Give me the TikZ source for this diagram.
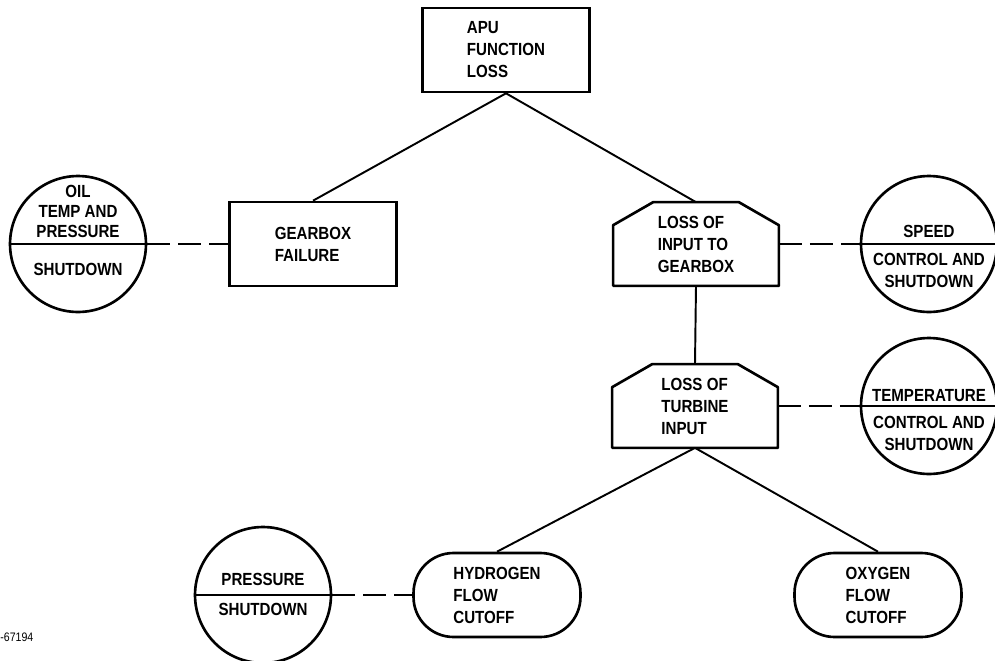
\documentclass[tikz,border=0pt]{standalone}
\usepackage{fontspec}
\setmainfont{Liberation Sans}[FakeStretch=0.86]

\begin{document}
\begin{tikzpicture}
        [x=0.02cm, y=-0.02cm,
        caps/.style={font=\bfseries\fontsize{10}{12.5}\selectfont, align=left, inner sep=0pt},
        box/.style={caps, draw, line width=1.5pt, minimum width=3.34cm, minimum height=1.68cm},
        hexbox/.style={caps, minimum width=3.3cm, minimum height=1.66cm},
        pill/.style={box, rounded corners=0.8cm},
        disc/.style={circle, draw, line width=1.5pt, minimum size=2.72cm, inner sep=0pt},
        disctext/.style={caps, align=center},
        outline/.style={line width=1.5pt, line join=round},
        edge/.style={line width=1.1pt},
        tie/.style={line width=1.1pt, dash pattern=on 0.46cm off 0.16cm}]

        \useasboundingbox (0,0) rectangle (995,660);

        % fault tree blocks
        \node[box] (apu) at (506,50) {APU\\FUNCTION\\LOSS};
        \node[box] (gear) at (313,244) {GEARBOX\\FAILURE};
        \node[hexbox] (input) at (696,244) {LOSS OF\\INPUT TO\\GEARBOX};
        \node[hexbox] (turbine) at (695,406) {LOSS OF\\TURBINE\\INPUT};
        \node[pill] (hydrogen) at (497,595) {HYDROGEN\\FLOW\\CUTOFF};
        \node[pill] (oxygen) at (878,595) {OXYGEN\\FLOW\\CUTOFF};

        % chamfered outlines for the loss blocks
        \foreach \n in {input,turbine}
            \draw[outline] (\n.south west) -- ([yshift=-0.46cm]\n.north west)
                -- ([xshift=0.8cm]\n.north west) -- ([xshift=-0.8cm]\n.north east)
                -- ([yshift=-0.46cm]\n.north east) -- (\n.south east) -- cycle;

        % protection circles
        \node[disc] (oil) at (78,244) {};
        \node[disc] (speed) at (929,244) {};
        \node[disc] (temp) at (929,406) {};
        \node[disc] (press) at (263,595) {};
        \foreach \c in {oil,speed,temp,press}
            \draw[edge] (\c.west) -- (\c.east);

        \node[disctext, anchor=south, font=\bfseries\fontsize{10}{11.5}\selectfont] (oil-up) at ([yshift=0.12cm]oil.center) {OIL\\TEMP AND\\PRESSURE};
        \node[disctext, anchor=north] (oil-low) at ([yshift=-0.38cm]oil.center) {SHUTDOWN};
        \node[disctext, anchor=south] (speed-up) at ([yshift=0.12cm]speed.center) {SPEED};
        \node[disctext, anchor=north] (speed-low) at ([yshift=-0.18cm]speed.center) {CONTROL AND\\SHUTDOWN};
        \node[disctext, anchor=south] (temp-up) at ([yshift=0.08cm]temp.center) {TEMPERATURE};
        \node[disctext, anchor=north] (temp-low) at ([yshift=-0.2cm]temp.center) {CONTROL AND\\SHUTDOWN};
        \node[disctext, anchor=south] (press-up) at ([yshift=0.18cm]press.center) {PRESSURE};
        \node[disctext, anchor=north] (press-low) at ([yshift=-0.16cm]press.center) {SHUTDOWN};

        % drawing number
        \node[anchor=west, inner sep=0pt, font=\fontsize{7}{8}\selectfont] (dwg) at (0,637) {-67194};

        % tree edges
        \draw[edge] (apu.south) -- (gear.north);
        \draw[edge] (apu.south) -- (input.north);
        \draw[edge] (input.south) -- (turbine.north);
        \draw[edge] (turbine.south) -- (hydrogen.north);
        \draw[edge] (turbine.south) -- (oxygen.north);

        % links to the protection circles
        \draw[tie] (oil.east) -- (gear.west);
        \draw[tie] (input.east) -- (speed.west);
        \draw[tie] (turbine.east) -- (temp.west);
        \draw[tie] (press.east) -- (hydrogen.west);

    \end{tikzpicture}
\end{document}
